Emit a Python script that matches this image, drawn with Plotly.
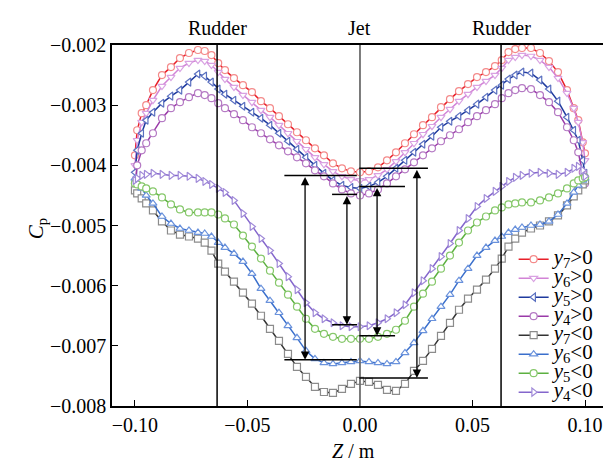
import plotly.graph_objects as go

# ---------------- data ----------------
Z = [-0.100, -0.099, -0.097, -0.095, -0.092, -0.088, -0.084, -0.080, -0.076, -0.072,
     -0.069, -0.066, -0.063, -0.060, -0.056, -0.052, -0.048, -0.044, -0.040, -0.036,
     -0.032, -0.028, -0.024, -0.020, -0.016, -0.012, -0.008, -0.004, 0.000,
     0.004, 0.008, 0.012, 0.016, 0.020, 0.024, 0.028, 0.032, 0.036, 0.040,
     0.044, 0.048, 0.052, 0.056, 0.060, 0.063, 0.066, 0.069, 0.072, 0.076,
     0.080, 0.084, 0.088, 0.092, 0.095, 0.097, 0.099, 0.100]

CP_Y7_POS = [-0.003833, -0.003417, -0.003133, -0.003000, -0.002750, -0.002500, -0.002367, -0.002217, -0.002133, -0.002083,
             -0.002100, -0.002167, -0.002300, -0.002417, -0.002550, -0.002667, -0.002783, -0.002933, -0.003050, -0.003183,
             -0.003317, -0.003450, -0.003583, -0.003717, -0.003833, -0.003967, -0.004050, -0.004100, -0.004117,
             -0.004100, -0.004033, -0.003917, -0.003783, -0.003633, -0.003483, -0.003333, -0.003200, -0.003033, -0.002900,
             -0.002767, -0.002650, -0.002533, -0.002450, -0.002350, -0.002250, -0.002117, -0.002067, -0.002050, -0.002050,
             -0.002133, -0.002267, -0.002450, -0.002750, -0.003050, -0.003250, -0.003617, -0.003800]
CP_Y6_POS = [-0.004000, -0.003583, -0.003283, -0.003133, -0.002917, -0.002683, -0.002533, -0.002383, -0.002300, -0.002250,
             -0.002267, -0.002333, -0.002450, -0.002567, -0.002700, -0.002833, -0.002950, -0.003083, -0.003200, -0.003333,
             -0.003467, -0.003600, -0.003733, -0.003867, -0.003983, -0.004100, -0.004183, -0.004233, -0.004250,
             -0.004233, -0.004167, -0.004067, -0.003933, -0.003783, -0.003633, -0.003483, -0.003350, -0.003200, -0.003067,
             -0.002933, -0.002817, -0.002700, -0.002600, -0.002500, -0.002383, -0.002250, -0.002200, -0.002167, -0.002183,
             -0.002250, -0.002367, -0.002550, -0.002800, -0.003050, -0.003283, -0.003617, -0.003917]
CP_Y5_POS = [-0.004117, -0.003750, -0.003467, -0.003250, -0.003117, -0.002967, -0.002850, -0.002750, -0.002617, -0.002483,
             -0.002517, -0.002617, -0.002733, -0.002817, -0.002917, -0.003017, -0.003117, -0.003217, -0.003333, -0.003467,
             -0.003600, -0.003733, -0.003867, -0.004000, -0.004133, -0.004250, -0.004333, -0.004367, -0.004383,
             -0.004350, -0.004283, -0.004183, -0.004050, -0.003917, -0.003783, -0.003650, -0.003517, -0.003367, -0.003267,
             -0.003183, -0.003083, -0.002983, -0.002867, -0.002750, -0.002667, -0.002567, -0.002500, -0.002450, -0.002467,
             -0.002583, -0.002733, -0.002933, -0.003200, -0.003417, -0.003583, -0.003917, -0.004133]
CP_Y4_POS = [-0.004300, -0.004000, -0.003750, -0.003633, -0.003467, -0.003217, -0.003050, -0.002950, -0.002867, -0.002800,
             -0.002833, -0.002883, -0.002967, -0.003050, -0.003150, -0.003250, -0.003367, -0.003467, -0.003567, -0.003667,
             -0.003767, -0.003867, -0.003967, -0.004083, -0.004183, -0.004300, -0.004400, -0.004467, -0.004500,
             -0.004467, -0.004400, -0.004300, -0.004183, -0.004067, -0.003950, -0.003833, -0.003717, -0.003600, -0.003500,
             -0.003400, -0.003283, -0.003183, -0.003083, -0.002983, -0.002883, -0.002800, -0.002750, -0.002717, -0.002733,
             -0.002833, -0.002950, -0.003117, -0.003367, -0.003583, -0.003783, -0.004117, -0.004300]
CP_Y7_NEG = [-0.004417, -0.004467, -0.004550, -0.004633, -0.004750, -0.004933, -0.005083, -0.005150, -0.005183, -0.005217,
             -0.005283, -0.005417, -0.005633, -0.005767, -0.005933, -0.006117, -0.006300, -0.006500, -0.006717, -0.006917,
             -0.007133, -0.007350, -0.007517, -0.007683, -0.007767, -0.007783, -0.007717, -0.007633, -0.007583,
             -0.007600, -0.007650, -0.007733, -0.007750, -0.007633, -0.007417, -0.007250, -0.007050, -0.006833, -0.006617,
             -0.006400, -0.006217, -0.006067, -0.005900, -0.005717, -0.005550, -0.005350, -0.005217, -0.005117, -0.005050,
             -0.005000, -0.004933, -0.004833, -0.004667, -0.004517, -0.004417, -0.004317, -0.004250]
CP_Y6_NEG = [-0.004217, -0.004283, -0.004383, -0.004500, -0.004633, -0.004850, -0.004967, -0.005050, -0.005083, -0.005117,
             -0.005133, -0.005183, -0.005283, -0.005367, -0.005467, -0.005600, -0.005800, -0.006050, -0.006250, -0.006450,
             -0.006667, -0.006867, -0.007083, -0.007217, -0.007283, -0.007300, -0.007283, -0.007267, -0.007250,
             -0.007267, -0.007283, -0.007300, -0.007267, -0.007117, -0.006950, -0.006750, -0.006550, -0.006350, -0.006150,
             -0.005917, -0.005717, -0.005500, -0.005367, -0.005250, -0.005183, -0.005117, -0.005067, -0.005033, -0.005000,
             -0.004983, -0.004933, -0.004817, -0.004633, -0.004450, -0.004333, -0.004250, -0.004217]
CP_Y5_NEG = [-0.004300, -0.004317, -0.004350, -0.004383, -0.004433, -0.004533, -0.004650, -0.004733, -0.004783, -0.004783,
             -0.004783, -0.004783, -0.004817, -0.004883, -0.004983, -0.005167, -0.005350, -0.005550, -0.005750, -0.005950,
             -0.006150, -0.006350, -0.006550, -0.006717, -0.006800, -0.006850, -0.006883, -0.006883, -0.006883,
             -0.006883, -0.006850, -0.006800, -0.006733, -0.006583, -0.006350, -0.006133, -0.005933, -0.005717, -0.005500,
             -0.005283, -0.005083, -0.004950, -0.004850, -0.004750, -0.004700, -0.004650, -0.004633, -0.004617, -0.004617,
             -0.004583, -0.004533, -0.004467, -0.004383, -0.004300, -0.004250, -0.004217, -0.004200]
CP_Y4_NEG = [-0.004250, -0.004217, -0.004167, -0.004150, -0.004133, -0.004150, -0.004167, -0.004167, -0.004183, -0.004217,
             -0.004267, -0.004317, -0.004383, -0.004450, -0.004583, -0.004800, -0.005017, -0.005217, -0.005417, -0.005633,
             -0.005850, -0.006067, -0.006283, -0.006450, -0.006550, -0.006617, -0.006667, -0.006683, -0.006683,
             -0.006667, -0.006617, -0.006550, -0.006450, -0.006317, -0.006117, -0.005917, -0.005717, -0.005517, -0.005300,
             -0.005083, -0.004883, -0.004683, -0.004550, -0.004433, -0.004350, -0.004267, -0.004200, -0.004167, -0.004133,
             -0.004117, -0.004133, -0.004150, -0.004117, -0.004050, -0.004017, -0.004083, -0.004183]

SERIES_NAMES = ["y7>0", "y6>0", "y5>0", "y4>0", "y7<0", "y6<0", "y5<0", "y4<0"]
SERIES_LABELS = ["<i>y</i><sub>7</sub>&gt;0", "<i>y</i><sub>6</sub>&gt;0", "<i>y</i><sub>5</sub>&gt;0",
                 "<i>y</i><sub>4</sub>&gt;0", "<i>y</i><sub>7</sub>&lt;0", "<i>y</i><sub>6</sub>&lt;0",
                 "<i>y</i><sub>5</sub>&lt;0", "<i>y</i><sub>4</sub>&lt;0"]
SERIES_VALUES = [CP_Y7_POS, CP_Y6_POS, CP_Y5_POS, CP_Y4_POS, CP_Y7_NEG, CP_Y6_NEG, CP_Y5_NEG, CP_Y4_NEG]

X_TICKS = [-0.10, -0.05, 0.00, 0.05, 0.10]
X_TICK_TEXT = ["\u22120.10", "\u22120.05", "0.00", "0.05", "0.10"]
Y_TICKS = [-0.008, -0.007, -0.006, -0.005, -0.004, -0.003, -0.002]
Y_TICK_TEXT = ["\u22120.008", "\u22120.007", "\u22120.006", "\u22120.005", "\u22120.004", "\u22120.003", "\u22120.002"]

# reference lines: rudders and jet
RUDDER_Z = [-0.0635, 0.0627]
JET_Z = 0.0
# difference markers: (arrow z, top cp, bottom cp, top line z-range, bottom line z-range)
DIFF_ARROW_Z = [-0.0244, -0.0058, 0.0076, 0.0253]
DIFF_TOP = [-0.004167, -0.004483, -0.004350, -0.004050]
DIFF_BOT = [-0.007233, -0.006650, -0.006833, -0.007533]
DIFF_TOP_RANGE = [(-0.0336, -0.0014), (-0.0124, -0.0013), (-0.0003, 0.0200), (-0.0003, 0.0302)]
DIFF_BOT_RANGE = [(-0.0336, -0.0014), (-0.0124, -0.0013), (-0.0003, 0.0156), (-0.0003, 0.0302)]

# ---------------- styles ----------------
LINE_COLORS = ["#e8202a", "#d283d6", "#1f3a9e", "#9a3aa8", "#333333", "#3a6fcc", "#5cb040", "#8466cc"]
MARKER_COLORS = ["#f48a8a", "#d9a2e2", "#5a70c0", "#b57ac4", "#8c8c8c", "#6a92dc", "#86c86a", "#a08ad8"]
SYMBOLS = ["circle", "triangle-down", "triangle-left", "circle", "square", "triangle-up", "circle", "triangle-right"]

FONT = "Liberation Serif, Times New Roman, serif"

fig = go.Figure()
for name, label, vals, lc, mc, sym in zip(SERIES_NAMES, SERIES_LABELS, SERIES_VALUES,
                                         LINE_COLORS, MARKER_COLORS, SYMBOLS):
    fig.add_trace(go.Scatter(
        x=Z, y=vals, mode="lines+markers",
        name='<span style="font-size:21px">' + label + '</span>',
        line=dict(color=lc, width=1.5),
        marker=dict(symbol=sym, size=7, color="white", line=dict(color=mc, width=1.2)),
    ))

shapes = []
for rz in RUDDER_Z:
    shapes.append(dict(type="line", xref="x", yref="paper", x0=rz, x1=rz, y0=0, y1=1,
                       line=dict(color="black", width=1.5), layer="above"))
shapes.append(dict(type="line", xref="x", yref="paper", x0=JET_Z, x1=JET_Z, y0=0, y1=1,
                   line=dict(color="#6e6e6e", width=1.8), layer="above"))
for (t0, t1), (b0, b1), yt, yb in zip(DIFF_TOP_RANGE, DIFF_BOT_RANGE, DIFF_TOP, DIFF_BOT):
    shapes.append(dict(type="line", xref="x", yref="y", x0=t0, x1=t1, y0=yt, y1=yt,
                       line=dict(color="black", width=1.5), layer="above"))
    shapes.append(dict(type="line", xref="x", yref="y", x0=b0, x1=b1, y0=yb, y1=yb,
                       line=dict(color="black", width=1.5), layer="above"))

annotations = []
for az, yt, yb in zip(DIFF_ARROW_Z, DIFF_TOP, DIFF_BOT):
    annotations.append(dict(x=az, y=yb, ax=az, ay=yt, xref="x", yref="y", axref="x", ayref="y",
                            text="", showarrow=True, arrowhead=2, startarrowhead=2,
                            arrowside="end+start", arrowsize=1.3, startarrowsize=1.3,
                            arrowwidth=1.3, arrowcolor="black", standoff=0, startstandoff=0))
for rz in RUDDER_Z:
    annotations.append(dict(x=rz, y=1, xref="x", yref="paper", yanchor="bottom", yshift=4,
                            text="Rudder", showarrow=False, font=dict(family=FONT, size=20, color="black")))
annotations.append(dict(x=JET_Z, y=1, xref="x", yref="paper", yanchor="bottom", yshift=4,
                        text="Jet", showarrow=False, font=dict(family=FONT, size=20, color="black")))
annotations.append(dict(x=-0.003, y=-0.125, xref="x", yref="paper",
                        text="<i>Z</i> / m", showarrow=False, yanchor="middle",
                        font=dict(family=FONT, size=20, color="black")))
annotations.append(dict(x=-0.183, y=0.49, xref="paper", yref="paper", textangle=-90,
                        text="<i>C</i><sub>p</sub>", showarrow=False,
                        font=dict(family=FONT, size=21, color="black")))

fig.update_layout(
    width=603, height=467,
    margin=dict(l=112, r=0, t=45, b=61, autoexpand=False),
    paper_bgcolor="white", plot_bgcolor="white",
    font=dict(family=FONT, size=20, color="black"),
    showlegend=True,
    legend=dict(x=0.818, y=0.447, xanchor="left", yanchor="top", bgcolor="rgba(0,0,0,0)",
                font=dict(family=FONT, size=12, color="black"), tracegroupgap=0),
    shapes=shapes, annotations=annotations,
)
fig.update_xaxes(range=[-0.1102, 0.108], tickvals=X_TICKS, ticktext=X_TICK_TEXT, automargin=False,
                 ticks="inside", ticklen=6, tickwidth=1.3, tickcolor="black",
                 showline=True, linecolor="black", linewidth=1.5, mirror=True,
                 showgrid=False, zeroline=False, tickfont=dict(family=FONT, size=20, color="black"))
fig.update_yaxes(range=[-0.008, -0.002], tickvals=Y_TICKS, ticktext=Y_TICK_TEXT, automargin=False,
                 ticks="inside", ticklen=6, tickwidth=1.3, tickcolor="black",
                 showline=True, linecolor="black", linewidth=1.5,
                 showgrid=False, zeroline=False, tickfont=dict(family=FONT, size=20, color="black"))

fig.write_html("out.html", config={"displayModeBar": False},
               post_script="document.body.style.margin='0';document.body.style.overflow='hidden';")
